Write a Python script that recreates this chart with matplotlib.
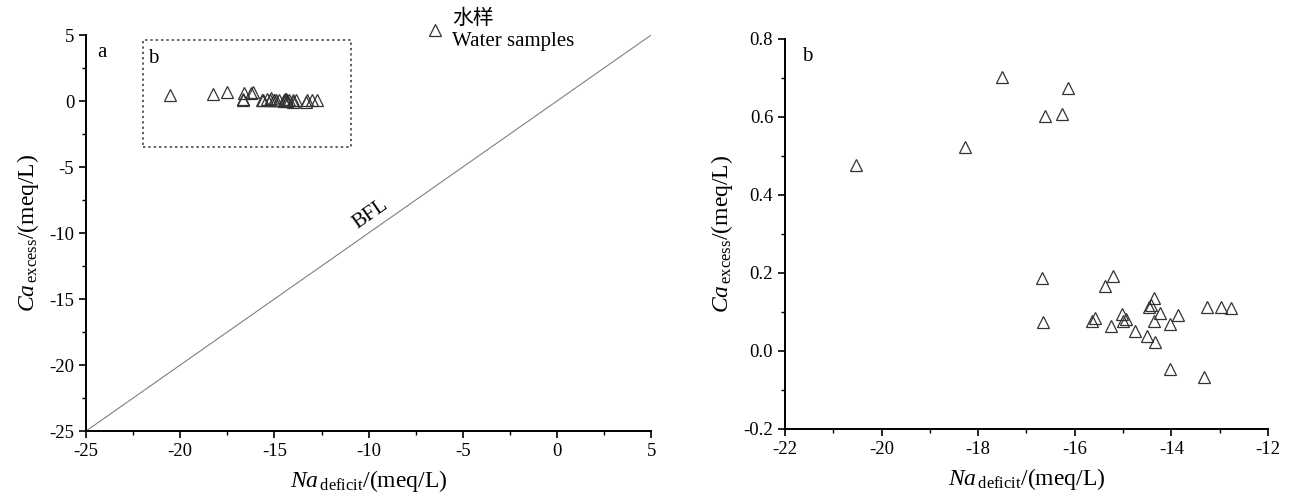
"""Na deficit vs Ca excess scatter, two panels"""
import matplotlib
matplotlib.use("Agg")
import matplotlib.pyplot as plt
from matplotlib.patches import Rectangle
from matplotlib.ticker import MultipleLocator, FormatStrFormatter

plt.rcParams["font.family"] = ["Liberation Serif", "Noto Sans CJK SC"]
plt.rcParams["mathtext.fontset"] = "custom"
plt.rcParams["mathtext.rm"] = "Liberation Serif"
plt.rcParams["mathtext.it"] = "Liberation Serif:italic"
plt.rcParams["axes.unicode_minus"] = False

# water samples (meq/L)
na_deficit = [-20.52, -18.27, -17.50, -16.61, -16.26, -16.15,
              -16.67, -16.66, -15.64, -15.59, -15.37, -15.20, -15.25,
              -15.02, -15.00, -14.94, -14.76, -14.51, -14.47, -14.43,
              -14.37, -14.35, -14.34, -14.23, -14.02, -13.87, -14.03,
              -13.32, -13.27, -12.98, -12.76]
ca_excess = [0.478, 0.523, 0.703, 0.602, 0.607, 0.674,
             0.188, 0.074, 0.077, 0.085, 0.166, 0.191, 0.063,
             0.094, 0.076, 0.082, 0.052, 0.038, 0.114, 0.118,
             0.135, 0.078, 0.024, 0.097, 0.069, 0.092, -0.047,
             -0.068, 0.112, 0.112, 0.110]
bfl = [-25, 5]

mk = dict(linestyle="none", marker="^", markersize=8, markerfacecolor="none",
          markeredgecolor="#333333", markeredgewidth=0.9)
xlab = r"$Na_{\,\rm deficit}$/(meq/L)"
ylab = r"$Ca_{\,\rm excess}$/(meq/L)"


def style(ax):
    for s in ("top", "right"):
        ax.spines[s].set_visible(False)
    for s in ("left", "bottom"):
        ax.spines[s].set_linewidth(1.4)
    ax.tick_params(which="major", direction="out", length=5, width=1.2, labelsize=13.5)
    ax.tick_params(which="minor", direction="out", length=3, width=1.0)


fig = plt.figure(figsize=(12.92, 4.98), dpi=100)

# --- a ---
ax1 = fig.add_axes([0.0666, 0.1345, 0.4374, 0.7952])
ax1.plot(bfl, bfl, color="#808080", linewidth=0.8)
ax1.plot(na_deficit, ca_excess, **mk, label="水样\nWater samples")
ax1.add_patch(Rectangle((-22, -3.47), 11.07, 8.09, fill=False,
                        linestyle=(0, (1.5, 2)), linewidth=1.1, edgecolor="#333333"))
ax1.set_xlim(-25, 5)
ax1.set_ylim(-25, 5)
ax1.xaxis.set_major_locator(MultipleLocator(5))
ax1.xaxis.set_minor_locator(MultipleLocator(2.5))
ax1.yaxis.set_major_locator(MultipleLocator(5))
ax1.yaxis.set_minor_locator(MultipleLocator(2.5))
style(ax1)
ax1.text(-24.4, 3.65, "a", fontsize=15, va="center")
ax1.text(-21.7, 3.25, "b", fontsize=15, va="center")
ax1.text(-9.9, -8.6, "BFL", fontsize=15, rotation=35, ha="center", va="center")
ax1.set_xlabel(xlab, fontsize=17, labelpad=6)
ax1.set_ylabel(ylab, fontsize=17, labelpad=6)
ax1.legend(loc="upper left", bbox_to_anchor=(0.585, 1.085), frameon=False,
           fontsize=15, handletextpad=0.3, borderaxespad=0, handlelength=1.0,
           labelspacing=0.2)

# --- b ---
ax2 = fig.add_axes([0.6076, 0.1386, 0.3738, 0.7831])
ax2.plot(na_deficit, ca_excess, **mk)
ax2.set_xlim(-22, -12)
ax2.set_ylim(-0.2, 0.8)
ax2.xaxis.set_major_locator(MultipleLocator(2))
ax2.xaxis.set_minor_locator(MultipleLocator(1))
ax2.yaxis.set_major_locator(MultipleLocator(0.2))
ax2.yaxis.set_minor_locator(MultipleLocator(0.1))
ax2.yaxis.set_major_formatter(FormatStrFormatter("%.1f"))
style(ax2)
ax2.text(-21.65, 0.755, "b", fontsize=15, va="center")
ax2.set_xlabel(xlab, fontsize=17, labelpad=6)
ax2.set_ylabel(ylab, fontsize=17, labelpad=6)

fig.savefig("out.png", dpi=100)
